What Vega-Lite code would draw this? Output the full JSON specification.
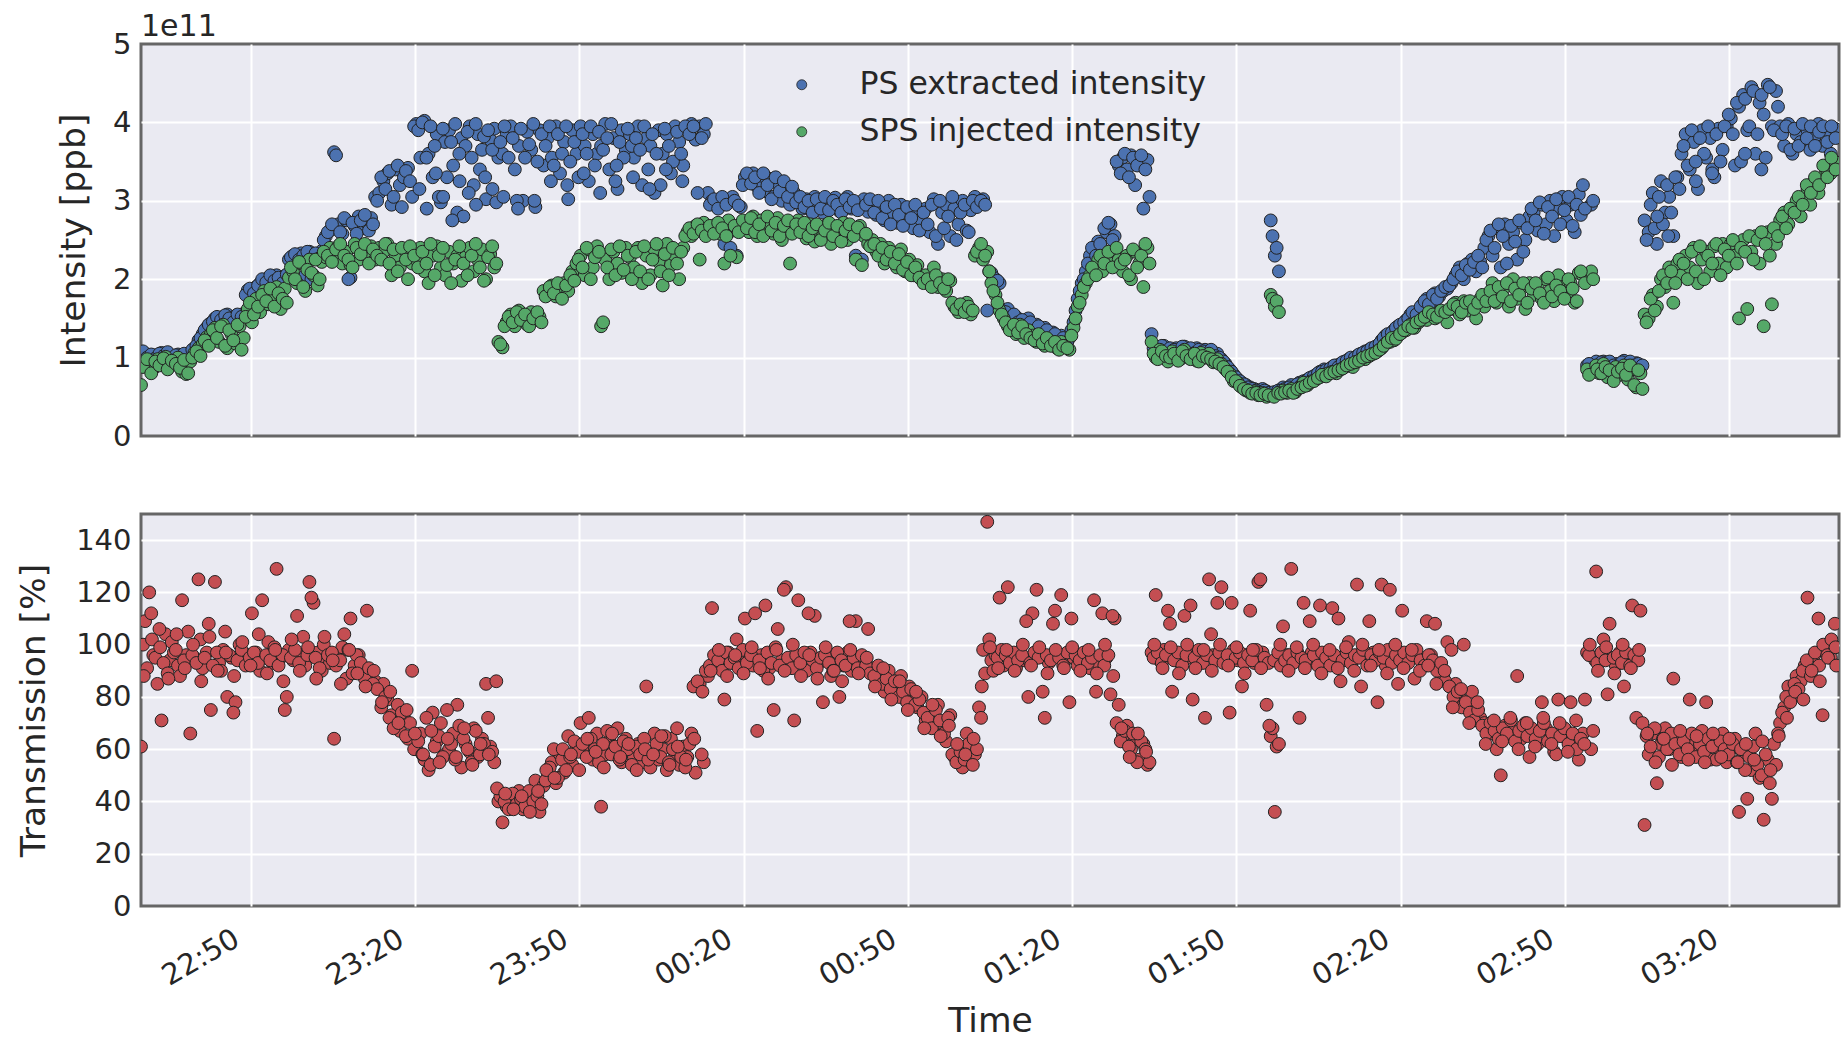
{
  "$schema": "https://vega.github.io/schema/vega-lite/v6.json",
  "background": "white",
  "padding": {"left": 15, "top": 10, "right": 1, "bottom": 5},
  "config": {
    "font": "DejaVu Sans",
    "view": {"fill": "#EAEAF2", "stroke": "#666666", "strokeWidth": 3},
    "axis": {
      "grid": true, "gridColor": "white", "gridWidth": 2, "domain": false, "ticks": false,
      "labelFontSize": 29, "titleFontSize": 34.5, "labelColor": "#262626", "titleColor": "#262626",
      "titleFontWeight": "normal", "labelPadding": 10, "titlePadding": 14
    }
  },
  "data": {
    "format": {"parse": {"t": "date:'%d %H:%M:%S'"}},
    "values": [
      {"t":"1 22:30:00","ps":1.02,"sps":0.65,"tr":61},
      {"t":"1 22:30:45","ps":1.05,"sps":0.92,"tr":109},
      {"t":"1 22:31:30","ps":0.98,"sps":0.96,"tr":120},
      {"t":"1 22:32:15","ps":1.03,"sps":0.86,"tr":96},
      {"t":"1 22:33:00","ps":1.00,"sps":0.98,"tr":85},
      {"t":"1 22:33:45","ps":1.06,"sps":0.93,"tr":71},
      {"t":"1 22:34:30","ps":0.97,"sps":1.01,"tr":104},
      {"t":"1 22:35:15","ps":1.02,"sps":0.89,"tr":94},
      {"t":"1 22:36:00","ps":1.00,"sps":0.95,"tr":97},
      {"t":"1 22:36:45","ps":1.04,"sps":1.00,"tr":92},
      {"t":"1 22:37:30","ps":0.99,"sps":0.82,"tr":117},
      {"t":"1 22:38:15","ps":1.01,"sps":0.79,"tr":96},
      {"t":"1 22:39:00","ps":1.05,"sps":0.95,"tr":66},
      {"t":"1 22:39:45","ps":1.12,"sps":1.06,"tr":95},
      {"t":"1 22:40:30","ps":1.22,"sps":1.12,"tr":125},
      {"t":"1 22:41:15","ps":1.30,"sps":1.17,"tr":91},
      {"t":"1 22:42:00","ps":1.38,"sps":1.26,"tr":97},
      {"t":"1 22:42:45","ps":1.44,"sps":1.30,"tr":75},
      {"t":"1 22:43:30","ps":1.50,"sps":1.38,"tr":124},
      {"t":"1 22:44:15","ps":1.47,"sps":1.20,"tr":93},
      {"t":"1 22:45:00","ps":1.52,"sps":1.42,"tr":98},
      {"t":"1 22:45:45","ps":1.55,"sps":1.12,"tr":80},
      {"t":"1 22:46:30","ps":1.48,"sps":1.30,"tr":95},
      {"t":"1 22:47:15","ps":1.53,"sps":1.18,"tr":78},
      {"t":"1 22:48:00","ps":1.50,"sps":1.40,"tr":100},
      {"t":"1 22:48:45","ps":1.56,"sps":1.25,"tr":94},
      {"t":"1 22:49:30","ps":1.86,"sps":1.62,"tr":96},
      {"t":"1 22:50:15","ps":1.84,"sps":1.45,"tr":112},
      {"t":"1 22:51:00","ps":1.90,"sps":1.75,"tr":97},
      {"t":"1 22:51:45","ps":1.95,"sps":1.58,"tr":90},
      {"t":"1 22:52:30","ps":1.98,"sps":1.85,"tr":95},
      {"t":"1 22:53:15","ps":2.02,"sps":1.68,"tr":101},
      {"t":"1 22:54:00","ps":1.95,"sps":1.78,"tr":93},
      {"t":"1 22:54:45","ps":2.05,"sps":1.90,"tr":129},
      {"t":"1 22:55:30","ps":2.00,"sps":1.62,"tr":95},
      {"t":"1 22:56:15","ps":2.04,"sps":1.88,"tr":75},
      {"t":"1 22:57:00","ps":2.25,"sps":2.02,"tr":98},
      {"t":"1 22:57:45","ps":2.30,"sps":2.10,"tr":94},
      {"t":"1 22:58:30","ps":2.27,"sps":1.95,"tr":111},
      {"t":"1 22:59:15","ps":2.33,"sps":2.20,"tr":96},
      {"t":"1 23:00:00","ps":2.05,"sps":1.85,"tr":92},
      {"t":"1 23:00:45","ps":2.35,"sps":2.25,"tr":124},
      {"t":"1 23:01:30","ps":2.30,"sps":2.05,"tr":116},
      {"t":"1 23:02:15","ps":2.28,"sps":1.92,"tr":97},
      {"t":"1 23:03:00","ps":2.36,"sps":2.22,"tr":90},
      {"t":"1 23:03:45","ps":2.55,"sps":2.28,"tr":94},
      {"t":"1 23:04:30","ps":2.62,"sps":2.40,"tr":93},
      {"t":"1 23:05:15","ps":3.62,"sps":2.30,"tr":64},
      {"t":"1 23:06:00","ps":2.70,"sps":2.42,"tr":95},
      {"t":"1 23:06:45","ps":2.58,"sps":2.20,"tr":99},
      {"t":"1 23:07:30","ps":2.75,"sps":2.35,"tr":87},
      {"t":"1 23:08:15","ps":2.02,"sps":2.18,"tr":110},
      {"t":"1 23:09:00","ps":2.68,"sps":2.45,"tr":92},
      {"t":"1 23:09:45","ps":2.80,"sps":2.25,"tr":96},
      {"t":"1 23:10:30","ps":2.65,"sps":2.38,"tr":90},
      {"t":"1 23:11:15","ps":2.72,"sps":2.30,"tr":113},
      {"t":"1 23:12:00","ps":2.78,"sps":2.42,"tr":88},
      {"t":"1 23:12:45","ps":3.05,"sps":2.25,"tr":86},
      {"t":"1 23:13:30","ps":3.10,"sps":2.40,"tr":84},
      {"t":"1 23:14:15","ps":3.25,"sps":2.35,"tr":85},
      {"t":"1 23:15:00","ps":3.35,"sps":2.45,"tr":79},
      {"t":"1 23:15:45","ps":2.95,"sps":2.05,"tr":73},
      {"t":"1 23:16:30","ps":3.40,"sps":2.30,"tr":70},
      {"t":"1 23:17:15","ps":3.20,"sps":2.15,"tr":67},
      {"t":"1 23:18:00","ps":3.30,"sps":2.38,"tr":72},
      {"t":"1 23:18:45","ps":3.42,"sps":2.00,"tr":64},
      {"t":"1 23:19:30","ps":3.05,"sps":2.20,"tr":90},
      {"t":"1 23:20:15","ps":3.98,"sps":2.25,"tr":60},
      {"t":"1 23:21:00","ps":3.55,"sps":2.40,"tr":66},
      {"t":"1 23:21:45","ps":4.02,"sps":2.10,"tr":56},
      {"t":"1 23:22:30","ps":3.60,"sps":1.95,"tr":52},
      {"t":"1 23:23:15","ps":3.30,"sps":2.30,"tr":74},
      {"t":"1 23:24:00","ps":3.85,"sps":2.42,"tr":63},
      {"t":"1 23:24:45","ps":2.98,"sps":2.15,"tr":70},
      {"t":"1 23:25:30","ps":3.75,"sps":2.05,"tr":58},
      {"t":"1 23:26:15","ps":3.90,"sps":2.35,"tr":60},
      {"t":"1 23:27:00","ps":3.45,"sps":2.20,"tr":66},
      {"t":"1 23:27:45","ps":2.85,"sps":2.30,"tr":77},
      {"t":"1 23:28:30","ps":3.80,"sps":1.98,"tr":53},
      {"t":"1 23:29:15","ps":3.70,"sps":2.28,"tr":62},
      {"t":"1 23:30:00","ps":3.95,"sps":2.40,"tr":59},
      {"t":"1 23:30:45","ps":3.20,"sps":2.10,"tr":68},
      {"t":"1 23:31:30","ps":3.85,"sps":2.25,"tr":57},
      {"t":"1 23:32:15","ps":3.65,"sps":2.38,"tr":64},
      {"t":"1 23:33:00","ps":3.02,"sps":2.00,"tr":85},
      {"t":"1 23:33:45","ps":3.78,"sps":2.32,"tr":61},
      {"t":"1 23:34:30","ps":3.92,"sps":2.15,"tr":55},
      {"t":"1 23:35:15","ps":3.55,"sps":1.20,"tr":40},
      {"t":"1 23:36:00","ps":3.60,"sps":1.13,"tr":32},
      {"t":"1 23:36:45","ps":3.85,"sps":1.45,"tr":38},
      {"t":"1 23:37:30","ps":3.95,"sps":1.55,"tr":42},
      {"t":"1 23:38:15","ps":3.40,"sps":1.40,"tr":40},
      {"t":"1 23:39:00","ps":3.70,"sps":1.60,"tr":44},
      {"t":"1 23:39:45","ps":3.00,"sps":1.50,"tr":37},
      {"t":"1 23:40:30","ps":3.88,"sps":1.42,"tr":39},
      {"t":"1 23:41:15","ps":3.65,"sps":1.58,"tr":41},
      {"t":"1 23:42:00","ps":2.92,"sps":1.48,"tr":48},
      {"t":"1 23:42:45","ps":3.90,"sps":1.52,"tr":36},
      {"t":"1 23:43:30","ps":3.45,"sps":1.85,"tr":46},
      {"t":"1 23:44:15","ps":3.80,"sps":1.80,"tr":50},
      {"t":"1 23:45:00","ps":3.55,"sps":1.92,"tr":55},
      {"t":"1 23:45:45","ps":3.95,"sps":1.78,"tr":47},
      {"t":"1 23:46:30","ps":3.35,"sps":1.88,"tr":58},
      {"t":"1 23:47:15","ps":3.75,"sps":1.95,"tr":51},
      {"t":"1 23:48:00","ps":3.02,"sps":1.85,"tr":65},
      {"t":"1 23:48:45","ps":3.90,"sps":2.10,"tr":54},
      {"t":"1 23:49:30","ps":3.60,"sps":2.20,"tr":61},
      {"t":"1 23:50:15","ps":3.95,"sps":2.30,"tr":70},
      {"t":"1 23:51:00","ps":3.70,"sps":2.05,"tr":60},
      {"t":"1 23:51:45","ps":3.25,"sps":2.38,"tr":72},
      {"t":"1 23:52:30","ps":3.85,"sps":2.15,"tr":56},
      {"t":"1 23:53:15","ps":3.60,"sps":2.42,"tr":66},
      {"t":"1 23:54:00","ps":3.70,"sps":1.40,"tr":38},
      {"t":"1 23:54:45","ps":3.98,"sps":2.25,"tr":58},
      {"t":"1 23:55:30","ps":3.40,"sps":2.00,"tr":63},
      {"t":"1 23:56:15","ps":3.80,"sps":2.35,"tr":61},
      {"t":"1 23:57:00","ps":3.15,"sps":2.20,"tr":68},
      {"t":"1 23:57:45","ps":3.90,"sps":2.08,"tr":55},
      {"t":"1 23:58:30","ps":3.65,"sps":2.40,"tr":64},
      {"t":"1 23:59:15","ps":3.85,"sps":2.28,"tr":59},
      {"t":"2 00:00:00","ps":3.55,"sps":2.15,"tr":57},
      {"t":"2 00:00:45","ps":3.95,"sps":2.40,"tr":62},
      {"t":"2 00:01:30","ps":3.20,"sps":1.95,"tr":55},
      {"t":"2 00:02:15","ps":3.80,"sps":2.30,"tr":84},
      {"t":"2 00:03:00","ps":3.70,"sps":2.05,"tr":53},
      {"t":"2 00:03:45","ps":3.10,"sps":2.38,"tr":66},
      {"t":"2 00:04:30","ps":3.90,"sps":2.22,"tr":56},
      {"t":"2 00:05:15","ps":3.60,"sps":1.92,"tr":60},
      {"t":"2 00:06:00","ps":3.85,"sps":2.45,"tr":52},
      {"t":"2 00:06:45","ps":3.35,"sps":2.18,"tr":64},
      {"t":"2 00:07:30","ps":3.95,"sps":2.30,"tr":58},
      {"t":"2 00:08:15","ps":3.75,"sps":2.00,"tr":54},
      {"t":"2 00:09:00","ps":3.45,"sps":2.40,"tr":61},
      {"t":"2 00:09:45","ps":3.90,"sps":2.60,"tr":57},
      {"t":"2 00:10:30","ps":3.98,"sps":2.55,"tr":66},
      {"t":"2 00:11:15","ps":3.78,"sps":2.68,"tr":51},
      {"t":"2 00:12:00","ps":3.95,"sps":2.25,"tr":85},
      {"t":"2 00:12:45","ps":3.85,"sps":2.72,"tr":55},
      {"t":"2 00:13:30","ps":3.10,"sps":2.60,"tr":88},
      {"t":"2 00:14:15","ps":3.00,"sps":2.65,"tr":114},
      {"t":"2 00:15:00","ps":2.95,"sps":2.70,"tr":95},
      {"t":"2 00:15:45","ps":3.02,"sps":2.58,"tr":91},
      {"t":"2 00:16:30","ps":2.45,"sps":2.20,"tr":79},
      {"t":"2 00:17:15","ps":2.98,"sps":2.75,"tr":97},
      {"t":"2 00:18:00","ps":3.05,"sps":2.62,"tr":93},
      {"t":"2 00:18:45","ps":2.30,"sps":2.28,"tr":102},
      {"t":"2 00:19:30","ps":2.92,"sps":2.70,"tr":96},
      {"t":"2 00:20:15","ps":3.30,"sps":2.72,"tr":110},
      {"t":"2 00:21:00","ps":3.25,"sps":2.60,"tr":94},
      {"t":"2 00:21:45","ps":3.35,"sps":2.80,"tr":92},
      {"t":"2 00:22:30","ps":3.18,"sps":2.55,"tr":67},
      {"t":"2 00:23:15","ps":3.32,"sps":2.75,"tr":96},
      {"t":"2 00:24:00","ps":3.12,"sps":2.62,"tr":115},
      {"t":"2 00:24:45","ps":3.28,"sps":2.70,"tr":91},
      {"t":"2 00:25:30","ps":3.05,"sps":2.58,"tr":75},
      {"t":"2 00:26:15","ps":3.22,"sps":2.78,"tr":106},
      {"t":"2 00:27:00","ps":3.00,"sps":2.50,"tr":94},
      {"t":"2 00:27:45","ps":3.15,"sps":2.68,"tr":122},
      {"t":"2 00:28:30","ps":2.95,"sps":2.20,"tr":93},
      {"t":"2 00:29:15","ps":3.10,"sps":2.62,"tr":71},
      {"t":"2 00:30:00","ps":3.02,"sps":2.75,"tr":117},
      {"t":"2 00:30:45","ps":2.90,"sps":2.65,"tr":95},
      {"t":"2 00:31:30","ps":3.02,"sps":2.52,"tr":90},
      {"t":"2 00:32:15","ps":2.88,"sps":2.70,"tr":97},
      {"t":"2 00:33:00","ps":3.05,"sps":2.48,"tr":111},
      {"t":"2 00:33:45","ps":2.95,"sps":2.62,"tr":93},
      {"t":"2 00:34:30","ps":2.85,"sps":2.55,"tr":78},
      {"t":"2 00:35:15","ps":3.00,"sps":2.70,"tr":96},
      {"t":"2 00:36:00","ps":2.92,"sps":2.45,"tr":88},
      {"t":"2 00:36:45","ps":3.04,"sps":2.66,"tr":94},
      {"t":"2 00:37:30","ps":2.87,"sps":2.58,"tr":80},
      {"t":"2 00:38:15","ps":2.98,"sps":2.72,"tr":92},
      {"t":"2 00:39:00","ps":3.05,"sps":2.50,"tr":97},
      {"t":"2 00:39:45","ps":2.90,"sps":2.62,"tr":90},
      {"t":"2 00:40:30","ps":2.30,"sps":2.25,"tr":109},
      {"t":"2 00:41:15","ps":2.98,"sps":2.68,"tr":95},
      {"t":"2 00:42:00","ps":3.02,"sps":2.55,"tr":93},
      {"t":"2 00:42:45","ps":2.86,"sps":2.45,"tr":106},
      {"t":"2 00:43:30","ps":2.98,"sps":2.50,"tr":91},
      {"t":"2 00:44:15","ps":2.82,"sps":2.35,"tr":86},
      {"t":"2 00:45:00","ps":2.95,"sps":2.45,"tr":89},
      {"t":"2 00:45:45","ps":2.75,"sps":2.20,"tr":82},
      {"t":"2 00:46:30","ps":3.00,"sps":2.40,"tr":90},
      {"t":"2 00:47:15","ps":2.85,"sps":2.28,"tr":84},
      {"t":"2 00:48:00","ps":2.72,"sps":2.15,"tr":81},
      {"t":"2 00:48:45","ps":2.95,"sps":2.38,"tr":88},
      {"t":"2 00:49:30","ps":2.80,"sps":2.10,"tr":79},
      {"t":"2 00:50:15","ps":2.90,"sps":2.25,"tr":84},
      {"t":"2 00:51:00","ps":2.65,"sps":2.05,"tr":78},
      {"t":"2 00:51:45","ps":2.88,"sps":2.18,"tr":76},
      {"t":"2 00:52:30","ps":2.75,"sps":2.00,"tr":80},
      {"t":"2 00:53:15","ps":2.90,"sps":2.05,"tr":71},
      {"t":"2 00:54:00","ps":2.60,"sps":1.95,"tr":74},
      {"t":"2 00:54:45","ps":3.02,"sps":2.15,"tr":69},
      {"t":"2 00:55:30","ps":2.45,"sps":1.90,"tr":77},
      {"t":"2 00:56:15","ps":2.85,"sps":2.00,"tr":70},
      {"t":"2 00:57:00","ps":2.95,"sps":1.85,"tr":63},
      {"t":"2 00:57:45","ps":2.55,"sps":1.98,"tr":73},
      {"t":"2 00:58:30","ps":2.90,"sps":1.65,"tr":57},
      {"t":"2 00:59:15","ps":2.70,"sps":1.58,"tr":60},
      {"t":"2 01:00:00","ps":3.00,"sps":1.62,"tr":53},
      {"t":"2 01:00:45","ps":2.62,"sps":1.70,"tr":66},
      {"t":"2 01:01:30","ps":2.88,"sps":1.55,"tr":55},
      {"t":"2 01:02:15","ps":3.05,"sps":2.30,"tr":58},
      {"t":"2 01:03:00","ps":2.95,"sps":2.40,"tr":76},
      {"t":"2 01:03:45","ps":3.02,"sps":2.25,"tr":98},
      {"t":"2 01:04:30","ps":1.60,"sps":2.35,"tr":147},
      {"t":"2 01:05:15","ps":2.08,"sps":1.95,"tr":94},
      {"t":"2 01:06:00","ps":2.00,"sps":1.80,"tr":96},
      {"t":"2 01:06:45","ps":1.95,"sps":1.60,"tr":118},
      {"t":"2 01:07:30","ps":1.55,"sps":1.50,"tr":92},
      {"t":"2 01:08:15","ps":1.62,"sps":1.40,"tr":122},
      {"t":"2 01:09:00","ps":1.48,"sps":1.38,"tr":95},
      {"t":"2 01:09:45","ps":1.52,"sps":1.30,"tr":91},
      {"t":"2 01:10:30","ps":1.45,"sps":1.42,"tr":97},
      {"t":"2 01:11:15","ps":1.40,"sps":1.25,"tr":94},
      {"t":"2 01:12:00","ps":1.50,"sps":1.35,"tr":80},
      {"t":"2 01:12:45","ps":1.35,"sps":1.28,"tr":112},
      {"t":"2 01:13:30","ps":1.42,"sps":1.20,"tr":121},
      {"t":"2 01:14:15","ps":1.30,"sps":1.25,"tr":96},
      {"t":"2 01:15:00","ps":1.38,"sps":1.15,"tr":72},
      {"t":"2 01:15:45","ps":1.25,"sps":1.22,"tr":93},
      {"t":"2 01:16:30","ps":1.32,"sps":1.18,"tr":108},
      {"t":"2 01:17:15","ps":1.20,"sps":1.12,"tr":97},
      {"t":"2 01:18:00","ps":1.28,"sps":1.20,"tr":119},
      {"t":"2 01:18:45","ps":1.18,"sps":1.15,"tr":94},
      {"t":"2 01:19:30","ps":1.25,"sps":1.10,"tr":78},
      {"t":"2 01:20:15","ps":1.45,"sps":1.38,"tr":95},
      {"t":"2 01:21:00","ps":1.75,"sps":1.65,"tr":92},
      {"t":"2 01:21:45","ps":1.95,"sps":1.80,"tr":96},
      {"t":"2 01:22:30","ps":2.10,"sps":1.95,"tr":94},
      {"t":"2 01:23:15","ps":2.30,"sps":2.05,"tr":91},
      {"t":"2 01:24:00","ps":2.20,"sps":2.15,"tr":117},
      {"t":"2 01:24:45","ps":2.48,"sps":2.25,"tr":93},
      {"t":"2 01:25:30","ps":2.35,"sps":2.10,"tr":112},
      {"t":"2 01:26:15","ps":2.60,"sps":2.30,"tr":95},
      {"t":"2 01:27:00","ps":2.70,"sps":2.20,"tr":81},
      {"t":"2 01:27:45","ps":2.55,"sps":2.35,"tr":110},
      {"t":"2 01:28:30","ps":3.45,"sps":2.25,"tr":77},
      {"t":"2 01:29:15","ps":3.55,"sps":2.10,"tr":65},
      {"t":"2 01:30:00","ps":3.40,"sps":2.30,"tr":69},
      {"t":"2 01:30:45","ps":3.58,"sps":2.00,"tr":60},
      {"t":"2 01:31:30","ps":3.20,"sps":2.35,"tr":64},
      {"t":"2 01:32:15","ps":3.50,"sps":2.20,"tr":56},
      {"t":"2 01:33:00","ps":2.90,"sps":1.90,"tr":62},
      {"t":"2 01:33:45","ps":3.52,"sps":2.40,"tr":54},
      {"t":"2 01:34:30","ps":1.30,"sps":1.20,"tr":97},
      {"t":"2 01:35:15","ps":1.12,"sps":1.00,"tr":119},
      {"t":"2 01:36:00","ps":1.08,"sps":1.10,"tr":94},
      {"t":"2 01:36:45","ps":1.15,"sps":1.05,"tr":98},
      {"t":"2 01:37:30","ps":1.10,"sps":0.95,"tr":113},
      {"t":"2 01:38:15","ps":1.05,"sps":1.08,"tr":82},
      {"t":"2 01:39:00","ps":1.12,"sps":1.02,"tr":96},
      {"t":"2 01:39:45","ps":1.08,"sps":0.98,"tr":93},
      {"t":"2 01:40:30","ps":1.14,"sps":1.10,"tr":111},
      {"t":"2 01:41:15","ps":1.06,"sps":1.00,"tr":95},
      {"t":"2 01:42:00","ps":1.10,"sps":1.04,"tr":79},
      {"t":"2 01:42:45","ps":1.12,"sps":0.96,"tr":97},
      {"t":"2 01:43:30","ps":1.05,"sps":1.06,"tr":94},
      {"t":"2 01:44:15","ps":1.10,"sps":1.00,"tr":72},
      {"t":"2 01:45:00","ps":1.08,"sps":1.05,"tr":125},
      {"t":"2 01:45:45","ps":1.02,"sps":0.94,"tr":96},
      {"t":"2 01:46:30","ps":1.05,"sps":0.98,"tr":116},
      {"t":"2 01:47:15","ps":0.98,"sps":0.92,"tr":122},
      {"t":"2 01:48:00","ps":0.92,"sps":0.85,"tr":95},
      {"t":"2 01:48:45","ps":0.85,"sps":0.80,"tr":74},
      {"t":"2 01:49:30","ps":0.78,"sps":0.70,"tr":98},
      {"t":"2 01:50:15","ps":0.72,"sps":0.68,"tr":94},
      {"t":"2 01:51:00","ps":0.68,"sps":0.62,"tr":84},
      {"t":"2 01:51:45","ps":0.65,"sps":0.58,"tr":96},
      {"t":"2 01:52:30","ps":0.62,"sps":0.55,"tr":113},
      {"t":"2 01:53:15","ps":0.60,"sps":0.57,"tr":93},
      {"t":"2 01:54:00","ps":0.58,"sps":0.52,"tr":124},
      {"t":"2 01:54:45","ps":0.60,"sps":0.55,"tr":97},
      {"t":"2 01:55:30","ps":0.57,"sps":0.50,"tr":77},
      {"t":"2 01:56:15","ps":2.75,"sps":1.80,"tr":65},
      {"t":"2 01:56:35","ps":2.55,"sps":1.75,"tr":68},
      {"t":"2 01:57:00","ps":2.30,"sps":1.65,"tr":36},
      {"t":"2 01:57:20","ps":2.40,"sps":1.72,"tr":61},
      {"t":"2 01:57:45","ps":2.10,"sps":1.58,"tr":62},
      {"t":"2 01:58:30","ps":0.62,"sps":0.58,"tr":107},
      {"t":"2 01:59:15","ps":0.58,"sps":0.55,"tr":96},
      {"t":"2 02:00:00","ps":0.65,"sps":0.60,"tr":129},
      {"t":"2 02:00:45","ps":0.62,"sps":0.56,"tr":94},
      {"t":"2 02:01:30","ps":0.68,"sps":0.62,"tr":72},
      {"t":"2 02:02:15","ps":0.70,"sps":0.68,"tr":116},
      {"t":"2 02:03:00","ps":0.72,"sps":0.65,"tr":95},
      {"t":"2 02:03:45","ps":0.75,"sps":0.70,"tr":97},
      {"t":"2 02:04:30","ps":0.78,"sps":0.72,"tr":93},
      {"t":"2 02:05:15","ps":0.82,"sps":0.75,"tr":115},
      {"t":"2 02:06:00","ps":0.85,"sps":0.78,"tr":94},
      {"t":"2 02:06:45","ps":0.82,"sps":0.80,"tr":97},
      {"t":"2 02:07:30","ps":0.88,"sps":0.82,"tr":114},
      {"t":"2 02:08:15","ps":0.90,"sps":0.80,"tr":93},
      {"t":"2 02:09:00","ps":0.92,"sps":0.85,"tr":86},
      {"t":"2 02:09:45","ps":0.95,"sps":0.88,"tr":96},
      {"t":"2 02:10:30","ps":0.98,"sps":0.90,"tr":101},
      {"t":"2 02:11:15","ps":0.96,"sps":0.88,"tr":94},
      {"t":"2 02:12:00","ps":1.02,"sps":0.95,"tr":123},
      {"t":"2 02:12:45","ps":1.05,"sps":0.98,"tr":84},
      {"t":"2 02:13:30","ps":1.08,"sps":0.98,"tr":95},
      {"t":"2 02:14:15","ps":1.10,"sps":1.02,"tr":109},
      {"t":"2 02:15:00","ps":1.12,"sps":1.05,"tr":97},
      {"t":"2 02:15:45","ps":1.15,"sps":1.08,"tr":78},
      {"t":"2 02:16:30","ps":1.22,"sps":1.12,"tr":123},
      {"t":"2 02:17:15","ps":1.28,"sps":1.18,"tr":92},
      {"t":"2 02:18:00","ps":1.25,"sps":1.20,"tr":121},
      {"t":"2 02:18:45","ps":1.35,"sps":1.22,"tr":96},
      {"t":"2 02:19:30","ps":1.40,"sps":1.28,"tr":85},
      {"t":"2 02:20:15","ps":1.38,"sps":1.32,"tr":113},
      {"t":"2 02:21:00","ps":1.48,"sps":1.35,"tr":94},
      {"t":"2 02:21:45","ps":1.55,"sps":1.42,"tr":97},
      {"t":"2 02:22:30","ps":1.52,"sps":1.38,"tr":87},
      {"t":"2 02:23:15","ps":1.60,"sps":1.45,"tr":95},
      {"t":"2 02:24:00","ps":1.68,"sps":1.50,"tr":93},
      {"t":"2 02:24:45","ps":1.75,"sps":1.48,"tr":109},
      {"t":"2 02:25:30","ps":1.70,"sps":1.55,"tr":96},
      {"t":"2 02:26:15","ps":1.82,"sps":1.50,"tr":108},
      {"t":"2 02:27:00","ps":1.78,"sps":1.58,"tr":92},
      {"t":"2 02:27:45","ps":1.85,"sps":1.55,"tr":88},
      {"t":"2 02:28:30","ps":1.88,"sps":1.45,"tr":101},
      {"t":"2 02:29:15","ps":1.95,"sps":1.62,"tr":98},
      {"t":"2 02:30:00","ps":2.05,"sps":1.70,"tr":85},
      {"t":"2 02:30:45","ps":2.15,"sps":1.55,"tr":80},
      {"t":"2 02:31:30","ps":2.00,"sps":1.72,"tr":100},
      {"t":"2 02:32:15","ps":2.20,"sps":1.60,"tr":77},
      {"t":"2 02:33:00","ps":2.25,"sps":1.68,"tr":82},
      {"t":"2 02:33:45","ps":2.10,"sps":1.50,"tr":74},
      {"t":"2 02:34:30","ps":2.22,"sps":1.75,"tr":72},
      {"t":"2 02:35:15","ps":2.40,"sps":1.65,"tr":70},
      {"t":"2 02:36:00","ps":2.55,"sps":1.80,"tr":68},
      {"t":"2 02:36:45","ps":2.30,"sps":1.95,"tr":66},
      {"t":"2 02:37:30","ps":2.65,"sps":1.70,"tr":60},
      {"t":"2 02:38:15","ps":2.15,"sps":1.85,"tr":50},
      {"t":"2 02:39:00","ps":2.70,"sps":1.90,"tr":69},
      {"t":"2 02:39:45","ps":2.45,"sps":1.65,"tr":65},
      {"t":"2 02:40:30","ps":2.60,"sps":2.00,"tr":67},
      {"t":"2 02:41:15","ps":2.25,"sps":1.75,"tr":88},
      {"t":"2 02:42:00","ps":2.72,"sps":1.88,"tr":64},
      {"t":"2 02:42:45","ps":2.50,"sps":1.62,"tr":70},
      {"t":"2 02:43:30","ps":2.80,"sps":1.95,"tr":57},
      {"t":"2 02:44:15","ps":2.85,"sps":1.80,"tr":66},
      {"t":"2 02:45:00","ps":2.62,"sps":1.92,"tr":62},
      {"t":"2 02:45:45","ps":2.95,"sps":1.75,"tr":78},
      {"t":"2 02:46:30","ps":2.70,"sps":2.00,"tr":68},
      {"t":"2 02:47:15","ps":3.00,"sps":1.85,"tr":64},
      {"t":"2 02:48:00","ps":2.55,"sps":1.72,"tr":59},
      {"t":"2 02:48:45","ps":2.90,"sps":2.05,"tr":79},
      {"t":"2 02:49:30","ps":3.05,"sps":1.90,"tr":65},
      {"t":"2 02:50:15","ps":2.75,"sps":1.78,"tr":67},
      {"t":"2 02:51:00","ps":2.95,"sps":1.95,"tr":78},
      {"t":"2 02:51:45","ps":2.60,"sps":1.70,"tr":63},
      {"t":"2 02:52:30","ps":3.08,"sps":2.08,"tr":56},
      {"t":"2 02:53:15","ps":3.20,"sps":2.05,"tr":66},
      {"t":"2 02:54:00","ps":0.90,"sps":0.85,"tr":97},
      {"t":"2 02:54:45","ps":2.95,"sps":2.10,"tr":60},
      {"t":"2 02:55:30","ps":0.92,"sps":0.82,"tr":94},
      {"t":"2 02:55:40","ps":0.95,"sps":0.90,"tr":128},
      {"t":"2 02:56:15","ps":0.88,"sps":0.80,"tr":96},
      {"t":"2 02:57:00","ps":0.95,"sps":0.92,"tr":102},
      {"t":"2 02:57:45","ps":0.90,"sps":0.75,"tr":81},
      {"t":"2 02:58:30","ps":0.85,"sps":0.82,"tr":95},
      {"t":"2 02:59:15","ps":0.92,"sps":0.88,"tr":92},
      {"t":"2 03:00:00","ps":0.88,"sps":0.78,"tr":97},
      {"t":"2 03:00:45","ps":0.96,"sps":0.90,"tr":84},
      {"t":"2 03:01:30","ps":0.90,"sps":0.72,"tr":95},
      {"t":"2 03:02:15","ps":0.87,"sps":0.85,"tr":115},
      {"t":"2 03:03:00","ps":0.93,"sps":0.62,"tr":72},
      {"t":"2 03:03:45","ps":0.88,"sps":0.80,"tr":113},
      {"t":"2 03:04:30","ps":2.75,"sps":1.55,"tr":31},
      {"t":"2 03:05:15","ps":2.60,"sps":1.50,"tr":58},
      {"t":"2 03:06:00","ps":3.10,"sps":1.80,"tr":66},
      {"t":"2 03:06:45","ps":2.45,"sps":1.65,"tr":47},
      {"t":"2 03:07:30","ps":3.25,"sps":2.00,"tr":62},
      {"t":"2 03:08:15","ps":2.85,"sps":1.90,"tr":68},
      {"t":"2 03:09:00","ps":3.05,"sps":2.15,"tr":60},
      {"t":"2 03:09:45","ps":2.55,"sps":1.70,"tr":87},
      {"t":"2 03:10:30","ps":3.30,"sps":2.20,"tr":64},
      {"t":"2 03:11:15","ps":3.60,"sps":2.05,"tr":57},
      {"t":"2 03:12:00","ps":3.85,"sps":2.30,"tr":65},
      {"t":"2 03:12:45","ps":3.40,"sps":2.15,"tr":79},
      {"t":"2 03:13:30","ps":3.75,"sps":2.40,"tr":62},
      {"t":"2 03:14:15","ps":3.15,"sps":1.95,"tr":58},
      {"t":"2 03:15:00","ps":3.90,"sps":2.25,"tr":67},
      {"t":"2 03:15:45","ps":3.55,"sps":2.35,"tr":78},
      {"t":"2 03:16:30","ps":3.80,"sps":2.10,"tr":56},
      {"t":"2 03:17:15","ps":3.30,"sps":2.42,"tr":63},
      {"t":"2 03:18:00","ps":3.92,"sps":2.20,"tr":60},
      {"t":"2 03:18:45","ps":3.65,"sps":2.45,"tr":66},
      {"t":"2 03:19:30","ps":3.95,"sps":2.15,"tr":55},
      {"t":"2 03:20:15","ps":4.05,"sps":2.45,"tr":60},
      {"t":"2 03:21:00","ps":3.45,"sps":2.30,"tr":64},
      {"t":"2 03:21:45","ps":4.20,"sps":1.50,"tr":36},
      {"t":"2 03:22:30","ps":4.35,"sps":2.50,"tr":58},
      {"t":"2 03:23:15","ps":3.90,"sps":1.62,"tr":41},
      {"t":"2 03:24:00","ps":4.45,"sps":2.35,"tr":52},
      {"t":"2 03:24:45","ps":3.60,"sps":2.55,"tr":66},
      {"t":"2 03:25:30","ps":4.25,"sps":2.20,"tr":49},
      {"t":"2 03:26:15","ps":4.10,"sps":1.40,"tr":33},
      {"t":"2 03:27:00","ps":4.48,"sps":2.60,"tr":56},
      {"t":"2 03:27:45","ps":3.95,"sps":1.68,"tr":41},
      {"t":"2 03:28:30","ps":4.40,"sps":2.45,"tr":54},
      {"t":"2 03:29:15","ps":3.95,"sps":2.75,"tr":70},
      {"t":"2 03:30:00","ps":3.70,"sps":2.85,"tr":76},
      {"t":"2 03:30:45","ps":3.98,"sps":2.70,"tr":84},
      {"t":"2 03:31:30","ps":3.60,"sps":2.90,"tr":80},
      {"t":"2 03:32:15","ps":3.85,"sps":3.00,"tr":88},
      {"t":"2 03:33:00","ps":3.75,"sps":2.80,"tr":86},
      {"t":"2 03:33:45","ps":3.95,"sps":3.05,"tr":92},
      {"t":"2 03:34:15","ps":3.90,"sps":3.15,"tr":118},
      {"t":"2 03:34:45","ps":3.65,"sps":2.95,"tr":90},
      {"t":"2 03:35:30","ps":3.80,"sps":3.25,"tr":96},
      {"t":"2 03:36:15","ps":3.98,"sps":3.10,"tr":110},
      {"t":"2 03:37:00","ps":3.70,"sps":3.30,"tr":73},
      {"t":"2 03:37:45","ps":3.85,"sps":3.40,"tr":98},
      {"t":"2 03:38:30","ps":3.60,"sps":3.35,"tr":95},
      {"t":"2 03:39:15","ps":3.92,"sps":3.50,"tr":108},
      {"t":"1 22:30:22","ps":1.08,"sps":0.88,"tr":100},
      {"t":"1 22:31:07","ps":1.00,"sps":0.98,"tr":91},
      {"t":"1 22:31:52","ps":1.04,"sps":0.80,"tr":112},
      {"t":"1 22:32:37","ps":0.99,"sps":0.95,"tr":95},
      {"t":"1 22:33:22","ps":1.05,"sps":0.90,"tr":106},
      {"t":"1 22:34:07","ps":1.02,"sps":0.99,"tr":93},
      {"t":"1 22:34:52","ps":1.07,"sps":0.85,"tr":89},
      {"t":"1 22:35:37","ps":0.98,"sps":0.96,"tr":101},
      {"t":"1 22:36:22","ps":1.03,"sps":0.92,"tr":98},
      {"t":"1 22:37:07","ps":1.00,"sps":0.87,"tr":88},
      {"t":"1 22:37:52","ps":1.05,"sps":0.97,"tr":94},
      {"t":"1 22:38:37","ps":0.96,"sps":0.80,"tr":105},
      {"t":"1 22:39:22","ps":1.10,"sps":1.00,"tr":96},
      {"t":"1 22:40:07","ps":1.15,"sps":1.08,"tr":93},
      {"t":"1 22:40:52","ps":1.25,"sps":1.02,"tr":102},
      {"t":"1 22:41:37","ps":1.35,"sps":1.22,"tr":95},
      {"t":"1 22:42:22","ps":1.42,"sps":1.15,"tr":108},
      {"t":"1 22:43:07","ps":1.46,"sps":1.35,"tr":92},
      {"t":"1 22:43:52","ps":1.52,"sps":1.25,"tr":97},
      {"t":"1 22:44:37","ps":1.48,"sps":1.40,"tr":90},
      {"t":"1 22:45:22","ps":1.54,"sps":1.15,"tr":105},
      {"t":"1 22:46:07","ps":1.50,"sps":1.35,"tr":96},
      {"t":"1 22:46:52","ps":1.45,"sps":1.22,"tr":74},
      {"t":"1 22:47:37","ps":1.55,"sps":1.42,"tr":94},
      {"t":"1 22:48:22","ps":1.52,"sps":1.10,"tr":98},
      {"t":"1 22:49:07","ps":1.80,"sps":1.52,"tr":92},
      {"t":"1 22:49:52","ps":1.88,"sps":1.70,"tr":95},
      {"t":"1 22:50:37","ps":1.82,"sps":1.55,"tr":97},
      {"t":"1 22:51:22","ps":1.92,"sps":1.65,"tr":93},
      {"t":"1 22:52:07","ps":2.00,"sps":1.80,"tr":117},
      {"t":"1 22:52:52","ps":1.96,"sps":1.72,"tr":96},
      {"t":"1 22:53:37","ps":2.05,"sps":1.88,"tr":94},
      {"t":"1 22:54:22","ps":1.98,"sps":1.65,"tr":99},
      {"t":"1 22:55:07","ps":2.02,"sps":1.82,"tr":92},
      {"t":"1 22:55:52","ps":1.95,"sps":1.75,"tr":96},
      {"t":"1 22:56:37","ps":2.06,"sps":1.70,"tr":80},
      {"t":"1 22:57:22","ps":2.28,"sps":2.15,"tr":95},
      {"t":"1 22:58:07","ps":2.32,"sps":2.00,"tr":98},
      {"t":"1 22:58:52","ps":2.25,"sps":2.22,"tr":93},
      {"t":"1 22:59:37","ps":2.30,"sps":1.90,"tr":103},
      {"t":"1 23:00:22","ps":2.35,"sps":2.12,"tr":96},
      {"t":"1 23:01:07","ps":2.00,"sps":2.08,"tr":118},
      {"t":"1 23:01:52","ps":2.33,"sps":2.25,"tr":95},
      {"t":"1 23:02:37","ps":2.27,"sps":2.00,"tr":91},
      {"t":"1 23:03:22","ps":2.50,"sps":2.35,"tr":100},
      {"t":"1 23:04:07","ps":2.60,"sps":2.30,"tr":96},
      {"t":"1 23:04:52","ps":2.70,"sps":2.22,"tr":97},
      {"t":"1 23:05:37","ps":3.58,"sps":2.38,"tr":92},
      {"t":"1 23:06:22","ps":2.60,"sps":2.45,"tr":94},
      {"t":"1 23:07:07","ps":2.78,"sps":2.30,"tr":104},
      {"t":"1 23:07:52","ps":2.00,"sps":2.25,"tr":98},
      {"t":"1 23:08:37","ps":2.72,"sps":2.15,"tr":89},
      {"t":"1 23:09:22","ps":2.58,"sps":2.40,"tr":96},
      {"t":"1 23:10:07","ps":2.75,"sps":2.32,"tr":93},
      {"t":"1 23:10:52","ps":2.82,"sps":2.45,"tr":87},
      {"t":"1 23:11:37","ps":2.62,"sps":2.20,"tr":91},
      {"t":"1 23:12:22","ps":2.70,"sps":2.38,"tr":85},
      {"t":"1 23:13:07","ps":3.00,"sps":2.30,"tr":83},
      {"t":"1 23:13:52","ps":3.30,"sps":2.25,"tr":76},
      {"t":"1 23:14:37","ps":3.15,"sps":2.45,"tr":80},
      {"t":"1 23:15:22","ps":3.38,"sps":2.20,"tr":72},
      {"t":"1 23:16:07","ps":3.05,"sps":2.38,"tr":68},
      {"t":"1 23:16:52","ps":3.45,"sps":2.10,"tr":77},
      {"t":"1 23:17:37","ps":2.92,"sps":2.40,"tr":74},
      {"t":"1 23:18:22","ps":3.38,"sps":2.25,"tr":65},
      {"t":"1 23:19:07","ps":3.25,"sps":2.42,"tr":70},
      {"t":"1 23:19:52","ps":3.95,"sps":2.30,"tr":60},
      {"t":"1 23:20:37","ps":3.90,"sps":2.15,"tr":63},
      {"t":"1 23:21:22","ps":4.00,"sps":2.35,"tr":58},
      {"t":"1 23:22:07","ps":3.55,"sps":2.20,"tr":72},
      {"t":"1 23:22:52","ps":3.95,"sps":2.45,"tr":54},
      {"t":"1 23:23:37","ps":3.70,"sps":2.05,"tr":61},
      {"t":"1 23:24:22","ps":3.05,"sps":2.30,"tr":65},
      {"t":"1 23:25:07","ps":3.92,"sps":2.40,"tr":57},
      {"t":"1 23:25:52","ps":3.30,"sps":2.18,"tr":75},
      {"t":"1 23:26:37","ps":3.75,"sps":1.95,"tr":62},
      {"t":"1 23:27:22","ps":3.98,"sps":2.25,"tr":56},
      {"t":"1 23:28:07","ps":3.60,"sps":2.42,"tr":69},
      {"t":"1 23:28:52","ps":2.80,"sps":2.20,"tr":64},
      {"t":"1 23:29:37","ps":3.88,"sps":2.05,"tr":60},
      {"t":"1 23:30:22","ps":3.55,"sps":2.30,"tr":55},
      {"t":"1 23:31:07","ps":3.98,"sps":2.45,"tr":67},
      {"t":"1 23:31:52","ps":3.40,"sps":2.15,"tr":58},
      {"t":"1 23:32:37","ps":3.82,"sps":1.98,"tr":62},
      {"t":"1 23:33:22","ps":3.90,"sps":2.28,"tr":72},
      {"t":"1 23:34:07","ps":3.65,"sps":2.42,"tr":59},
      {"t":"1 23:34:52","ps":2.98,"sps":2.20,"tr":86},
      {"t":"1 23:35:37","ps":3.75,"sps":1.17,"tr":42},
      {"t":"1 23:36:22","ps":3.95,"sps":1.40,"tr":40},
      {"t":"1 23:37:07","ps":3.55,"sps":1.52,"tr":37},
      {"t":"1 23:37:52","ps":3.80,"sps":1.45,"tr":43},
      {"t":"1 23:38:37","ps":3.00,"sps":1.58,"tr":39},
      {"t":"1 23:39:22","ps":3.92,"sps":1.48,"tr":41},
      {"t":"1 23:40:07","ps":3.55,"sps":1.55,"tr":38},
      {"t":"1 23:40:52","ps":3.72,"sps":1.40,"tr":44},
      {"t":"1 23:41:37","ps":3.98,"sps":1.50,"tr":40},
      {"t":"1 23:42:22","ps":3.50,"sps":1.58,"tr":42},
      {"t":"1 23:43:07","ps":3.85,"sps":1.45,"tr":39},
      {"t":"1 23:43:52","ps":3.70,"sps":1.78,"tr":48},
      {"t":"1 23:44:37","ps":3.95,"sps":1.90,"tr":53},
      {"t":"1 23:45:22","ps":3.45,"sps":1.82,"tr":60},
      {"t":"1 23:46:07","ps":3.85,"sps":1.95,"tr":49},
      {"t":"1 23:46:52","ps":3.60,"sps":1.75,"tr":56},
      {"t":"1 23:47:37","ps":3.95,"sps":1.92,"tr":52},
      {"t":"1 23:48:22","ps":3.50,"sps":2.05,"tr":57},
      {"t":"1 23:49:07","ps":3.75,"sps":1.98,"tr":63},
      {"t":"1 23:49:52","ps":3.30,"sps":2.25,"tr":59},
      {"t":"1 23:50:37","ps":3.85,"sps":2.15,"tr":62},
      {"t":"1 23:51:22","ps":3.60,"sps":2.40,"tr":57},
      {"t":"1 23:52:07","ps":3.95,"sps":2.00,"tr":64},
      {"t":"1 23:52:52","ps":3.45,"sps":2.28,"tr":60},
      {"t":"1 23:53:37","ps":3.88,"sps":2.35,"tr":55},
      {"t":"1 23:54:22","ps":3.65,"sps":1.45,"tr":62},
      {"t":"1 23:55:07","ps":3.80,"sps":2.15,"tr":67},
      {"t":"1 23:55:52","ps":3.98,"sps":2.38,"tr":58},
      {"t":"1 23:56:37","ps":3.25,"sps":2.05,"tr":61},
      {"t":"1 23:57:22","ps":3.75,"sps":2.42,"tr":56},
      {"t":"1 23:58:07","ps":3.55,"sps":2.12,"tr":63},
      {"t":"1 23:58:52","ps":3.92,"sps":2.30,"tr":60},
      {"t":"1 23:59:37","ps":3.70,"sps":2.00,"tr":54},
      {"t":"2 00:00:22","ps":3.80,"sps":2.35,"tr":61},
      {"t":"2 00:01:07","ps":3.65,"sps":2.10,"tr":58},
      {"t":"2 00:01:52","ps":3.95,"sps":2.42,"tr":64},
      {"t":"2 00:02:37","ps":3.40,"sps":2.00,"tr":56},
      {"t":"2 00:03:22","ps":3.85,"sps":2.25,"tr":59},
      {"t":"2 00:04:07","ps":3.60,"sps":2.45,"tr":62},
      {"t":"2 00:04:52","ps":3.20,"sps":2.10,"tr":57},
      {"t":"2 00:05:37","ps":3.92,"sps":2.32,"tr":65},
      {"t":"2 00:06:22","ps":3.70,"sps":2.05,"tr":55},
      {"t":"2 00:07:07","ps":3.50,"sps":2.40,"tr":60},
      {"t":"2 00:07:52","ps":3.88,"sps":2.20,"tr":68},
      {"t":"2 00:08:37","ps":3.60,"sps":2.35,"tr":57},
      {"t":"2 00:09:22","ps":3.95,"sps":2.55,"tr":53},
      {"t":"2 00:10:07","ps":3.85,"sps":2.65,"tr":62},
      {"t":"2 00:10:52","ps":3.95,"sps":2.58,"tr":84},
      {"t":"2 00:11:37","ps":3.10,"sps":2.70,"tr":86},
      {"t":"2 00:12:22","ps":3.80,"sps":2.62,"tr":58},
      {"t":"2 00:13:07","ps":3.98,"sps":2.55,"tr":90},
      {"t":"2 00:13:52","ps":2.95,"sps":2.68,"tr":92},
      {"t":"2 00:14:37","ps":3.02,"sps":2.58,"tr":96},
      {"t":"2 00:15:22","ps":2.90,"sps":2.72,"tr":94},
      {"t":"2 00:16:07","ps":3.05,"sps":2.65,"tr":90},
      {"t":"2 00:16:52","ps":2.95,"sps":2.55,"tr":97},
      {"t":"2 00:17:37","ps":2.40,"sps":2.30,"tr":93},
      {"t":"2 00:18:22","ps":3.00,"sps":2.68,"tr":95},
      {"t":"2 00:19:07","ps":2.94,"sps":2.60,"tr":91},
      {"t":"2 00:19:52","ps":3.20,"sps":2.75,"tr":98},
      {"t":"2 00:20:37","ps":3.35,"sps":2.65,"tr":93},
      {"t":"2 00:21:22","ps":3.22,"sps":2.78,"tr":96},
      {"t":"2 00:22:07","ps":3.30,"sps":2.60,"tr":112},
      {"t":"2 00:22:52","ps":3.10,"sps":2.70,"tr":94},
      {"t":"2 00:23:37","ps":3.35,"sps":2.55,"tr":90},
      {"t":"2 00:24:22","ps":3.20,"sps":2.80,"tr":97},
      {"t":"2 00:25:07","ps":3.02,"sps":2.62,"tr":93},
      {"t":"2 00:25:52","ps":3.30,"sps":2.72,"tr":99},
      {"t":"2 00:26:37","ps":3.12,"sps":2.55,"tr":92},
      {"t":"2 00:27:22","ps":3.25,"sps":2.68,"tr":121},
      {"t":"2 00:28:07","ps":3.05,"sps":2.75,"tr":95},
      {"t":"2 00:28:52","ps":3.18,"sps":2.58,"tr":91},
      {"t":"2 00:29:37","ps":2.98,"sps":2.70,"tr":96},
      {"t":"2 00:30:22","ps":3.05,"sps":2.60,"tr":93},
      {"t":"2 00:31:07","ps":2.92,"sps":2.72,"tr":97},
      {"t":"2 00:31:52","ps":3.00,"sps":2.55,"tr":112},
      {"t":"2 00:32:37","ps":2.85,"sps":2.65,"tr":94},
      {"t":"2 00:33:22","ps":3.02,"sps":2.70,"tr":91},
      {"t":"2 00:34:07","ps":2.90,"sps":2.50,"tr":95},
      {"t":"2 00:34:52","ps":3.05,"sps":2.62,"tr":96},
      {"t":"2 00:35:37","ps":2.88,"sps":2.72,"tr":93},
      {"t":"2 00:36:22","ps":3.00,"sps":2.55,"tr":90},
      {"t":"2 00:37:07","ps":2.95,"sps":2.68,"tr":97},
      {"t":"2 00:37:52","ps":2.85,"sps":2.48,"tr":94},
      {"t":"2 00:38:37","ps":3.02,"sps":2.62,"tr":92},
      {"t":"2 00:39:22","ps":2.92,"sps":2.70,"tr":109},
      {"t":"2 00:40:07","ps":3.00,"sps":2.55,"tr":95},
      {"t":"2 00:40:52","ps":2.88,"sps":2.66,"tr":91},
      {"t":"2 00:41:37","ps":2.25,"sps":2.18,"tr":96},
      {"t":"2 00:42:22","ps":2.95,"sps":2.58,"tr":92},
      {"t":"2 00:43:07","ps":3.02,"sps":2.42,"tr":89},
      {"t":"2 00:43:52","ps":2.85,"sps":2.45,"tr":88},
      {"t":"2 00:44:37","ps":3.00,"sps":2.30,"tr":92},
      {"t":"2 00:45:22","ps":2.78,"sps":2.40,"tr":85},
      {"t":"2 00:46:07","ps":2.92,"sps":2.25,"tr":87},
      {"t":"2 00:46:52","ps":2.70,"sps":2.35,"tr":83},
      {"t":"2 00:47:37","ps":2.95,"sps":2.20,"tr":86},
      {"t":"2 00:48:22","ps":2.82,"sps":2.32,"tr":80},
      {"t":"2 00:49:07","ps":2.68,"sps":2.12,"tr":82},
      {"t":"2 00:49:52","ps":2.92,"sps":2.22,"tr":78},
      {"t":"2 00:50:37","ps":2.78,"sps":2.05,"tr":83},
      {"t":"2 00:51:22","ps":2.95,"sps":2.15,"tr":77},
      {"t":"2 00:52:07","ps":2.62,"sps":2.02,"tr":79},
      {"t":"2 00:52:52","ps":2.85,"sps":1.95,"tr":74},
      {"t":"2 00:53:37","ps":2.70,"sps":2.00,"tr":72},
      {"t":"2 00:54:22","ps":2.95,"sps":1.90,"tr":68},
      {"t":"2 00:55:07","ps":2.55,"sps":2.05,"tr":75},
      {"t":"2 00:55:52","ps":3.00,"sps":1.95,"tr":71},
      {"t":"2 00:56:37","ps":2.65,"sps":1.88,"tr":66},
      {"t":"2 00:57:22","ps":2.80,"sps":2.00,"tr":72},
      {"t":"2 00:58:07","ps":3.05,"sps":1.70,"tr":58},
      {"t":"2 00:58:52","ps":2.50,"sps":1.62,"tr":55},
      {"t":"2 00:59:37","ps":2.85,"sps":1.68,"tr":59},
      {"t":"2 01:00:22","ps":2.95,"sps":1.58,"tr":56},
      {"t":"2 01:01:07","ps":2.60,"sps":1.65,"tr":62},
      {"t":"2 01:01:52","ps":3.00,"sps":1.60,"tr":54},
      {"t":"2 01:02:37","ps":2.92,"sps":2.35,"tr":60},
      {"t":"2 01:03:22","ps":3.00,"sps":2.45,"tr":72},
      {"t":"2 01:04:07","ps":2.95,"sps":2.30,"tr":89},
      {"t":"2 01:04:52","ps":2.10,"sps":2.10,"tr":102},
      {"t":"2 01:05:37","ps":2.02,"sps":1.85,"tr":90},
      {"t":"2 01:06:22","ps":1.98,"sps":1.70,"tr":95},
      {"t":"2 01:07:07","ps":1.60,"sps":1.55,"tr":98},
      {"t":"2 01:07:52","ps":1.58,"sps":1.45,"tr":96},
      {"t":"2 01:08:37","ps":1.50,"sps":1.35,"tr":93},
      {"t":"2 01:09:22","ps":1.55,"sps":1.42,"tr":97},
      {"t":"2 01:10:07","ps":1.45,"sps":1.32,"tr":94},
      {"t":"2 01:10:52","ps":1.48,"sps":1.40,"tr":96},
      {"t":"2 01:11:37","ps":1.38,"sps":1.30,"tr":109},
      {"t":"2 01:12:22","ps":1.45,"sps":1.25,"tr":93},
      {"t":"2 01:13:07","ps":1.32,"sps":1.22,"tr":97},
      {"t":"2 01:13:52","ps":1.40,"sps":1.30,"tr":95},
      {"t":"2 01:14:37","ps":1.28,"sps":1.18,"tr":82},
      {"t":"2 01:15:22","ps":1.35,"sps":1.25,"tr":96},
      {"t":"2 01:16:07","ps":1.22,"sps":1.15,"tr":94},
      {"t":"2 01:16:52","ps":1.30,"sps":1.20,"tr":113},
      {"t":"2 01:17:37","ps":1.18,"sps":1.10,"tr":95},
      {"t":"2 01:18:22","ps":1.25,"sps":1.15,"tr":92},
      {"t":"2 01:19:07","ps":1.20,"sps":1.12,"tr":97},
      {"t":"2 01:19:52","ps":1.35,"sps":1.28,"tr":110},
      {"t":"2 01:20:37","ps":1.60,"sps":1.50,"tr":96},
      {"t":"2 01:21:22","ps":1.85,"sps":1.70,"tr":94},
      {"t":"2 01:22:07","ps":2.00,"sps":1.90,"tr":97},
      {"t":"2 01:22:52","ps":2.20,"sps":2.00,"tr":93},
      {"t":"2 01:23:37","ps":2.40,"sps":2.15,"tr":95},
      {"t":"2 01:24:22","ps":2.30,"sps":2.05,"tr":82},
      {"t":"2 01:25:07","ps":2.45,"sps":2.30,"tr":96},
      {"t":"2 01:25:52","ps":2.65,"sps":2.20,"tr":92},
      {"t":"2 01:26:37","ps":2.72,"sps":2.35,"tr":96},
      {"t":"2 01:27:22","ps":2.50,"sps":2.15,"tr":111},
      {"t":"2 01:28:07","ps":3.50,"sps":2.40,"tr":70},
      {"t":"2 01:28:52","ps":3.35,"sps":2.20,"tr":63},
      {"t":"2 01:29:37","ps":3.60,"sps":2.25,"tr":67},
      {"t":"2 01:30:22","ps":3.30,"sps":2.05,"tr":61},
      {"t":"2 01:31:07","ps":3.55,"sps":2.38,"tr":66},
      {"t":"2 01:31:52","ps":3.45,"sps":2.15,"tr":55},
      {"t":"2 01:32:37","ps":3.58,"sps":2.30,"tr":63},
      {"t":"2 01:33:22","ps":3.40,"sps":2.45,"tr":60},
      {"t":"2 01:34:07","ps":3.05,"sps":2.20,"tr":55},
      {"t":"2 01:34:52","ps":1.12,"sps":1.05,"tr":95},
      {"t":"2 01:35:37","ps":1.08,"sps":0.98,"tr":97},
      {"t":"2 01:36:22","ps":1.15,"sps":1.08,"tr":93},
      {"t":"2 01:37:07","ps":1.06,"sps":1.02,"tr":96},
      {"t":"2 01:37:52","ps":1.12,"sps":1.00,"tr":108},
      {"t":"2 01:38:37","ps":1.10,"sps":1.05,"tr":94},
      {"t":"2 01:39:22","ps":1.05,"sps":0.96,"tr":97},
      {"t":"2 01:40:07","ps":1.14,"sps":1.08,"tr":92},
      {"t":"2 01:40:52","ps":1.08,"sps":1.02,"tr":96},
      {"t":"2 01:41:37","ps":1.12,"sps":0.98,"tr":115},
      {"t":"2 01:42:22","ps":1.06,"sps":1.05,"tr":95},
      {"t":"2 01:43:07","ps":1.10,"sps":0.95,"tr":98},
      {"t":"2 01:43:52","ps":1.08,"sps":1.02,"tr":93},
      {"t":"2 01:44:37","ps":1.04,"sps":1.00,"tr":96},
      {"t":"2 01:45:22","ps":1.10,"sps":0.98,"tr":104},
      {"t":"2 01:46:07","ps":1.02,"sps":0.95,"tr":94},
      {"t":"2 01:46:52","ps":1.00,"sps":0.92,"tr":97},
      {"t":"2 01:47:37","ps":0.95,"sps":0.88,"tr":93},
      {"t":"2 01:48:22","ps":0.88,"sps":0.82,"tr":96},
      {"t":"2 01:49:07","ps":0.82,"sps":0.75,"tr":116},
      {"t":"2 01:49:52","ps":0.75,"sps":0.70,"tr":95},
      {"t":"2 01:50:37","ps":0.70,"sps":0.64,"tr":97},
      {"t":"2 01:51:22","ps":0.66,"sps":0.60,"tr":93},
      {"t":"2 01:52:07","ps":0.62,"sps":0.58,"tr":96},
      {"t":"2 01:52:52","ps":0.60,"sps":0.54,"tr":94},
      {"t":"2 01:53:37","ps":0.58,"sps":0.55,"tr":98},
      {"t":"2 01:54:22","ps":0.56,"sps":0.52,"tr":125},
      {"t":"2 01:55:07","ps":0.58,"sps":0.54,"tr":95},
      {"t":"2 01:55:52","ps":0.55,"sps":0.52,"tr":93},
      {"t":"2 01:56:52","ps":0.56,"sps":0.50,"tr":94},
      {"t":"2 01:57:37","ps":0.58,"sps":0.55,"tr":97},
      {"t":"2 01:58:07","ps":0.58,"sps":0.54,"tr":92},
      {"t":"2 01:58:52","ps":0.60,"sps":0.56,"tr":94},
      {"t":"2 01:59:37","ps":0.62,"sps":0.58,"tr":96},
      {"t":"2 02:00:22","ps":0.60,"sps":0.55,"tr":93},
      {"t":"2 02:01:07","ps":0.66,"sps":0.60,"tr":97},
      {"t":"2 02:01:52","ps":0.65,"sps":0.62,"tr":95},
      {"t":"2 02:02:37","ps":0.70,"sps":0.64,"tr":94},
      {"t":"2 02:03:22","ps":0.74,"sps":0.68,"tr":109},
      {"t":"2 02:04:07","ps":0.76,"sps":0.70,"tr":96},
      {"t":"2 02:04:52","ps":0.80,"sps":0.74,"tr":92},
      {"t":"2 02:05:37","ps":0.82,"sps":0.78,"tr":97},
      {"t":"2 02:06:22","ps":0.84,"sps":0.76,"tr":95},
      {"t":"2 02:07:07","ps":0.86,"sps":0.80,"tr":92},
      {"t":"2 02:07:52","ps":0.90,"sps":0.82,"tr":96},
      {"t":"2 02:08:37","ps":0.88,"sps":0.84,"tr":110},
      {"t":"2 02:09:22","ps":0.94,"sps":0.86,"tr":94},
      {"t":"2 02:10:07","ps":0.96,"sps":0.90,"tr":97},
      {"t":"2 02:10:52","ps":1.00,"sps":0.92,"tr":93},
      {"t":"2 02:11:37","ps":1.00,"sps":0.94,"tr":96},
      {"t":"2 02:12:22","ps":1.04,"sps":0.96,"tr":95},
      {"t":"2 02:13:07","ps":1.06,"sps":1.00,"tr":98},
      {"t":"2 02:13:52","ps":1.08,"sps":1.02,"tr":92},
      {"t":"2 02:14:37","ps":1.12,"sps":1.04,"tr":96},
      {"t":"2 02:15:22","ps":1.14,"sps":1.06,"tr":94},
      {"t":"2 02:16:07","ps":1.18,"sps":1.10,"tr":97},
      {"t":"2 02:16:52","ps":1.25,"sps":1.15,"tr":95},
      {"t":"2 02:17:37","ps":1.30,"sps":1.20,"tr":98},
      {"t":"2 02:18:22","ps":1.32,"sps":1.25,"tr":93},
      {"t":"2 02:19:07","ps":1.38,"sps":1.24,"tr":96},
      {"t":"2 02:19:52","ps":1.42,"sps":1.30,"tr":94},
      {"t":"2 02:20:37","ps":1.45,"sps":1.35,"tr":97},
      {"t":"2 02:21:22","ps":1.50,"sps":1.40,"tr":93},
      {"t":"2 02:22:07","ps":1.58,"sps":1.38,"tr":96},
      {"t":"2 02:22:52","ps":1.55,"sps":1.45,"tr":98},
      {"t":"2 02:23:37","ps":1.65,"sps":1.48,"tr":94},
      {"t":"2 02:24:22","ps":1.72,"sps":1.52,"tr":92},
      {"t":"2 02:25:07","ps":1.68,"sps":1.58,"tr":96},
      {"t":"2 02:25:52","ps":1.80,"sps":1.55,"tr":94},
      {"t":"2 02:26:37","ps":1.75,"sps":1.52,"tr":90},
      {"t":"2 02:27:22","ps":1.85,"sps":1.60,"tr":93},
      {"t":"2 02:28:07","ps":1.90,"sps":1.58,"tr":86},
      {"t":"2 02:28:52","ps":1.92,"sps":1.62,"tr":84},
      {"t":"2 02:29:37","ps":2.00,"sps":1.68,"tr":80},
      {"t":"2 02:30:22","ps":2.10,"sps":1.65,"tr":82},
      {"t":"2 02:31:07","ps":2.05,"sps":1.58,"tr":76},
      {"t":"2 02:31:52","ps":2.18,"sps":1.70,"tr":78},
      {"t":"2 02:32:37","ps":2.12,"sps":1.72,"tr":74},
      {"t":"2 02:33:22","ps":2.22,"sps":1.62,"tr":71},
      {"t":"2 02:34:07","ps":2.30,"sps":1.70,"tr":75},
      {"t":"2 02:34:52","ps":2.15,"sps":1.80,"tr":69},
      {"t":"2 02:35:37","ps":2.50,"sps":1.72,"tr":66},
      {"t":"2 02:36:22","ps":2.62,"sps":1.85,"tr":70},
      {"t":"2 02:37:07","ps":2.40,"sps":1.72,"tr":67},
      {"t":"2 02:37:52","ps":2.70,"sps":1.90,"tr":64},
      {"t":"2 02:38:37","ps":2.55,"sps":1.78,"tr":68},
      {"t":"2 02:39:22","ps":2.20,"sps":1.95,"tr":66},
      {"t":"2 02:40:07","ps":2.68,"sps":1.72,"tr":71},
      {"t":"2 02:40:52","ps":2.48,"sps":1.88,"tr":63},
      {"t":"2 02:41:37","ps":2.75,"sps":1.80,"tr":67},
      {"t":"2 02:42:22","ps":2.35,"sps":1.95,"tr":69},
      {"t":"2 02:43:07","ps":2.65,"sps":1.70,"tr":65},
      {"t":"2 02:43:52","ps":2.90,"sps":1.88,"tr":68},
      {"t":"2 02:44:37","ps":2.75,"sps":1.95,"tr":64},
      {"t":"2 02:45:22","ps":2.98,"sps":1.82,"tr":67},
      {"t":"2 02:46:07","ps":2.58,"sps":1.70,"tr":70},
      {"t":"2 02:46:52","ps":2.92,"sps":2.02,"tr":63},
      {"t":"2 02:47:37","ps":2.80,"sps":1.78,"tr":66},
      {"t":"2 02:48:22","ps":3.02,"sps":1.92,"tr":58},
      {"t":"2 02:49:07","ps":2.70,"sps":1.85,"tr":65},
      {"t":"2 02:49:52","ps":2.88,"sps":1.75,"tr":68},
      {"t":"2 02:50:37","ps":3.05,"sps":2.00,"tr":62},
      {"t":"2 02:51:22","ps":2.68,"sps":1.88,"tr":66},
      {"t":"2 02:52:07","ps":2.95,"sps":1.72,"tr":60},
      {"t":"2 02:52:52","ps":2.82,"sps":2.10,"tr":64},
      {"t":"2 02:53:37","ps":2.90,"sps":1.95,"tr":79},
      {"t":"2 02:54:22","ps":0.92,"sps":0.78,"tr":96},
      {"t":"2 02:55:07","ps":3.00,"sps":2.00,"tr":67},
      {"t":"2 02:55:52","ps":0.88,"sps":0.85,"tr":93},
      {"t":"2 02:56:37","ps":0.94,"sps":0.80,"tr":97},
      {"t":"2 02:57:22","ps":0.86,"sps":0.88,"tr":94},
      {"t":"2 02:58:07","ps":0.95,"sps":0.84,"tr":108},
      {"t":"2 02:58:52","ps":0.90,"sps":0.70,"tr":95},
      {"t":"2 02:59:37","ps":0.88,"sps":0.82,"tr":96},
      {"t":"2 03:00:22","ps":0.94,"sps":0.86,"tr":93},
      {"t":"2 03:01:07","ps":0.86,"sps":0.78,"tr":97},
      {"t":"2 03:01:52","ps":0.95,"sps":0.90,"tr":92},
      {"t":"2 03:02:37","ps":0.90,"sps":0.65,"tr":96},
      {"t":"2 03:03:22","ps":0.92,"sps":0.84,"tr":94},
      {"t":"2 03:04:07","ps":0.90,"sps":0.60,"tr":70},
      {"t":"2 03:04:52","ps":2.50,"sps":1.45,"tr":65},
      {"t":"2 03:05:37","ps":2.95,"sps":1.75,"tr":61},
      {"t":"2 03:06:22","ps":2.65,"sps":1.60,"tr":68},
      {"t":"2 03:07:07","ps":3.05,"sps":1.85,"tr":57},
      {"t":"2 03:07:52","ps":2.70,"sps":2.05,"tr":64},
      {"t":"2 03:08:37","ps":3.20,"sps":1.95,"tr":60},
      {"t":"2 03:09:22","ps":2.85,"sps":2.10,"tr":66},
      {"t":"2 03:10:07","ps":3.30,"sps":1.95,"tr":62},
      {"t":"2 03:10:52","ps":3.15,"sps":2.25,"tr":58},
      {"t":"2 03:11:37","ps":3.70,"sps":2.20,"tr":63},
      {"t":"2 03:12:22","ps":3.45,"sps":2.00,"tr":60},
      {"t":"2 03:13:07","ps":3.90,"sps":2.35,"tr":66},
      {"t":"2 03:13:52","ps":3.25,"sps":2.10,"tr":57},
      {"t":"2 03:14:37","ps":3.80,"sps":2.42,"tr":62},
      {"t":"2 03:15:22","ps":3.60,"sps":2.00,"tr":59},
      {"t":"2 03:16:07","ps":3.95,"sps":2.30,"tr":64},
      {"t":"2 03:16:52","ps":3.40,"sps":2.20,"tr":61},
      {"t":"2 03:17:37","ps":3.85,"sps":2.45,"tr":56},
      {"t":"2 03:18:22","ps":3.50,"sps":2.05,"tr":63},
      {"t":"2 03:19:07","ps":3.95,"sps":2.38,"tr":60},
      {"t":"2 03:19:52","ps":4.10,"sps":2.30,"tr":58},
      {"t":"2 03:20:37","ps":3.85,"sps":2.50,"tr":62},
      {"t":"2 03:21:22","ps":4.25,"sps":2.20,"tr":55},
      {"t":"2 03:22:07","ps":3.50,"sps":2.40,"tr":60},
      {"t":"2 03:22:52","ps":4.30,"sps":2.35,"tr":52},
      {"t":"2 03:23:37","ps":3.95,"sps":2.55,"tr":57},
      {"t":"2 03:24:22","ps":4.40,"sps":2.25,"tr":61},
      {"t":"2 03:25:07","ps":3.85,"sps":2.50,"tr":54},
      {"t":"2 03:25:52","ps":4.35,"sps":2.60,"tr":50},
      {"t":"2 03:26:37","ps":3.55,"sps":2.45,"tr":58},
      {"t":"2 03:27:22","ps":4.45,"sps":2.30,"tr":47},
      {"t":"2 03:28:07","ps":3.90,"sps":2.65,"tr":62},
      {"t":"2 03:28:52","ps":4.20,"sps":2.55,"tr":66},
      {"t":"2 03:29:37","ps":3.85,"sps":2.80,"tr":74},
      {"t":"2 03:30:22","ps":3.95,"sps":2.65,"tr":80},
      {"t":"2 03:31:07","ps":3.65,"sps":2.90,"tr":78},
      {"t":"2 03:31:52","ps":3.92,"sps":2.85,"tr":85},
      {"t":"2 03:32:37","ps":3.70,"sps":3.05,"tr":83},
      {"t":"2 03:33:22","ps":3.98,"sps":2.95,"tr":90},
      {"t":"2 03:34:07","ps":3.80,"sps":3.20,"tr":94},
      {"t":"2 03:34:52","ps":3.95,"sps":3.10,"tr":88},
      {"t":"2 03:35:37","ps":3.70,"sps":3.30,"tr":97},
      {"t":"2 03:36:22","ps":3.88,"sps":3.20,"tr":92},
      {"t":"2 03:37:07","ps":3.95,"sps":3.45,"tr":100},
      {"t":"2 03:37:52","ps":3.75,"sps":3.30,"tr":96},
      {"t":"2 03:38:37","ps":3.95,"sps":3.55,"tr":102},
      {"t":"2 03:39:22","ps":3.80,"sps":3.40,"tr":99},
      {"t":"1 23:20:50","ps":3.15},
      {"t":"1 23:22:10","ps":2.90},
      {"t":"1 23:23:50","ps":3.35},
      {"t":"1 23:25:10","ps":3.05},
      {"t":"1 23:26:50","ps":2.75},
      {"t":"1 23:28:10","ps":3.25},
      {"t":"1 23:29:50","ps":3.10},
      {"t":"1 23:31:10","ps":2.95},
      {"t":"1 23:32:50","ps":3.30},
      {"t":"1 23:34:10","ps":3.15},
      {"t":"1 23:36:10","ps":3.05},
      {"t":"1 23:38:50","ps":2.90},
      {"t":"1 23:41:50","ps":3.00},
      {"t":"1 23:44:50","ps":3.25},
      {"t":"1 23:47:50","ps":3.20},
      {"t":"1 23:50:50","ps":3.35},
      {"t":"1 23:53:50","ps":3.10},
      {"t":"1 23:56:50","ps":3.45},
      {"t":"1 23:59:50","ps":3.30},
      {"t":"2 00:02:50","ps":3.15},
      {"t":"2 00:05:50","ps":3.40},
      {"t":"2 00:08:50","ps":3.25},
      {"t":"2 03:06:50","ps":2.80},
      {"t":"2 03:08:50","ps":2.55},
      {"t":"2 03:13:50","ps":3.50},
      {"t":"2 03:16:50","ps":3.35},
      {"t":"2 03:22:50","ps":3.60},
      {"t":"2 03:25:50","ps":3.40},
      {"t":"1 22:30:30","tr":88},
      {"t":"1 22:32:00","tr":102},
      {"t":"1 22:33:30","tr":99},
      {"t":"1 22:35:00","tr":87},
      {"t":"1 22:36:30","tr":104},
      {"t":"1 22:38:00","tr":91},
      {"t":"1 22:39:30","tr":100},
      {"t":"1 22:41:00","tr":86},
      {"t":"1 22:42:30","tr":103},
      {"t":"1 22:44:00","tr":90},
      {"t":"1 22:45:30","tr":97},
      {"t":"1 22:47:00","tr":88},
      {"t":"1 22:48:30","tr":101},
      {"t":"1 22:50:00","tr":92},
      {"t":"1 22:51:30","tr":104},
      {"t":"1 22:53:00","tr":89},
      {"t":"1 22:54:30","tr":98},
      {"t":"1 22:56:00","tr":86},
      {"t":"1 22:57:30","tr":102},
      {"t":"1 22:59:00","tr":90},
      {"t":"1 23:00:30","tr":99},
      {"t":"1 23:02:00","tr":87},
      {"t":"1 23:03:30","tr":103},
      {"t":"1 23:05:00","tr":94},
      {"t":"1 23:06:30","tr":85},
      {"t":"1 23:08:00","tr":98},
      {"t":"1 23:09:30","tr":89},
      {"t":"1 23:11:00","tr":84},
      {"t":"1 23:12:30","tr":90},
      {"t":"1 23:14:00","tr":78},
      {"t":"1 23:15:30","tr":82},
      {"t":"1 23:17:00","tr":70},
      {"t":"1 23:18:30","tr":75},
      {"t":"1 23:20:00","tr":66},
      {"t":"1 23:21:30","tr":58},
      {"t":"1 23:23:00","tr":67},
      {"t":"1 23:24:30","tr":55},
      {"t":"1 23:26:00","tr":64},
      {"t":"1 23:27:30","tr":57},
      {"t":"1 23:29:00","tr":68},
      {"t":"1 23:30:30","tr":54},
      {"t":"1 23:32:00","tr":62},
      {"t":"1 23:33:30","tr":58},
      {"t":"1 23:35:00","tr":45},
      {"t":"1 23:36:30","tr":43},
      {"t":"1 23:38:00","tr":37},
      {"t":"1 23:39:30","tr":42},
      {"t":"1 23:41:00","tr":36},
      {"t":"1 23:42:30","tr":44},
      {"t":"1 23:44:00","tr":52},
      {"t":"1 23:45:30","tr":49},
      {"t":"1 23:47:00","tr":60},
      {"t":"1 23:48:30","tr":58},
      {"t":"1 23:50:00","tr":52},
      {"t":"1 23:51:30","tr":64},
      {"t":"1 23:53:00","tr":59},
      {"t":"1 23:54:30","tr":53},
      {"t":"1 23:56:00","tr":66},
      {"t":"1 23:57:30","tr":57},
      {"t":"1 23:59:00","tr":62},
      {"t":"2 00:00:30","tr":52},
      {"t":"2 00:02:00","tr":60},
      {"t":"2 00:03:30","tr":58},
      {"t":"2 00:05:00","tr":65},
      {"t":"2 00:06:30","tr":54},
      {"t":"2 00:08:00","tr":61},
      {"t":"2 00:09:30","tr":56},
      {"t":"2 00:11:00","tr":64},
      {"t":"2 00:12:30","tr":82},
      {"t":"2 00:14:00","tr":90},
      {"t":"2 00:15:30","tr":98},
      {"t":"2 00:17:00","tr":88},
      {"t":"2 00:18:30","tr":96},
      {"t":"2 00:20:00","tr":89},
      {"t":"2 00:21:30","tr":99},
      {"t":"2 00:23:00","tr":91},
      {"t":"2 00:24:30","tr":87},
      {"t":"2 00:26:00","tr":98},
      {"t":"2 00:27:30","tr":90},
      {"t":"2 00:29:00","tr":100},
      {"t":"2 00:30:30","tr":88},
      {"t":"2 00:32:00","tr":96},
      {"t":"2 00:33:30","tr":87},
      {"t":"2 00:35:00","tr":99},
      {"t":"2 00:36:30","tr":90},
      {"t":"2 00:38:00","tr":86},
      {"t":"2 00:39:30","tr":98},
      {"t":"2 00:41:00","tr":89},
      {"t":"2 00:42:30","tr":95},
      {"t":"2 00:44:00","tr":84},
      {"t":"2 00:45:30","tr":91},
      {"t":"2 00:47:00","tr":79},
      {"t":"2 00:48:30","tr":86},
      {"t":"2 00:50:00","tr":75},
      {"t":"2 00:51:30","tr":82},
      {"t":"2 00:53:00","tr":68},
      {"t":"2 00:54:30","tr":77},
      {"t":"2 00:56:00","tr":65},
      {"t":"2 00:57:30","tr":69},
      {"t":"2 00:59:00","tr":62},
      {"t":"2 01:00:30","tr":58},
      {"t":"2 01:02:00","tr":64},
      {"t":"2 01:03:30","tr":84},
      {"t":"2 01:05:00","tr":99},
      {"t":"2 01:06:30","tr":91},
      {"t":"2 01:08:00","tr":98},
      {"t":"2 01:09:30","tr":90},
      {"t":"2 01:11:00","tr":100},
      {"t":"2 01:12:30","tr":92},
      {"t":"2 01:14:00","tr":99},
      {"t":"2 01:15:30","tr":89},
      {"t":"2 01:17:00","tr":98},
      {"t":"2 01:18:30","tr":91},
      {"t":"2 01:20:00","tr":99},
      {"t":"2 01:21:30","tr":90},
      {"t":"2 01:23:00","tr":98},
      {"t":"2 01:24:30","tr":89},
      {"t":"2 01:26:00","tr":100},
      {"t":"2 01:27:30","tr":88},
      {"t":"2 01:29:00","tr":68},
      {"t":"2 01:30:30","tr":57},
      {"t":"2 01:32:00","tr":66},
      {"t":"2 01:33:30","tr":59},
      {"t":"2 01:35:00","tr":100},
      {"t":"2 01:36:30","tr":91},
      {"t":"2 01:38:00","tr":99},
      {"t":"2 01:39:30","tr":89},
      {"t":"2 01:41:00","tr":100},
      {"t":"2 01:42:30","tr":91},
      {"t":"2 01:44:00","tr":98},
      {"t":"2 01:45:30","tr":90},
      {"t":"2 01:47:00","tr":100},
      {"t":"2 01:48:30","tr":92},
      {"t":"2 01:50:00","tr":99},
      {"t":"2 01:51:30","tr":89},
      {"t":"2 01:53:00","tr":98},
      {"t":"2 01:54:30","tr":91},
      {"t":"2 01:56:00","tr":69},
      {"t":"2 01:58:00","tr":100},
      {"t":"2 01:59:30","tr":90},
      {"t":"2 02:01:00","tr":99},
      {"t":"2 02:02:30","tr":91},
      {"t":"2 02:04:00","tr":100},
      {"t":"2 02:05:30","tr":89},
      {"t":"2 02:07:00","tr":98},
      {"t":"2 02:08:30","tr":91},
      {"t":"2 02:10:00","tr":99},
      {"t":"2 02:11:30","tr":90},
      {"t":"2 02:13:00","tr":100},
      {"t":"2 02:14:30","tr":92},
      {"t":"2 02:16:00","tr":98},
      {"t":"2 02:17:30","tr":89},
      {"t":"2 02:19:00","tr":100},
      {"t":"2 02:20:30","tr":91},
      {"t":"2 02:22:00","tr":98},
      {"t":"2 02:23:30","tr":90},
      {"t":"2 02:25:00","tr":92},
      {"t":"2 02:26:30","tr":85},
      {"t":"2 02:28:00","tr":90},
      {"t":"2 02:29:30","tr":76},
      {"t":"2 02:31:00","tr":83},
      {"t":"2 02:32:30","tr":70},
      {"t":"2 02:34:00","tr":78},
      {"t":"2 02:35:30","tr":62},
      {"t":"2 02:37:00","tr":71},
      {"t":"2 02:38:30","tr":63},
      {"t":"2 02:40:00","tr":72},
      {"t":"2 02:41:30","tr":60},
      {"t":"2 02:43:00","tr":70},
      {"t":"2 02:44:30","tr":61},
      {"t":"2 02:46:00","tr":72},
      {"t":"2 02:47:30","tr":62},
      {"t":"2 02:49:00","tr":70},
      {"t":"2 02:50:30","tr":59},
      {"t":"2 02:52:00","tr":71},
      {"t":"2 02:53:30","tr":62},
      {"t":"2 02:54:30","tr":100},
      {"t":"2 02:56:00","tr":90},
      {"t":"2 02:57:30","tr":99},
      {"t":"2 02:59:00","tr":89},
      {"t":"2 03:00:30","tr":100},
      {"t":"2 03:02:00","tr":91},
      {"t":"2 03:03:30","tr":98},
      {"t":"2 03:05:00","tr":66},
      {"t":"2 03:06:30","tr":55},
      {"t":"2 03:08:00","tr":64},
      {"t":"2 03:09:30","tr":54},
      {"t":"2 03:11:00","tr":67},
      {"t":"2 03:12:30","tr":56},
      {"t":"2 03:14:00","tr":65},
      {"t":"2 03:15:30","tr":55},
      {"t":"2 03:17:00","tr":66},
      {"t":"2 03:18:30","tr":57},
      {"t":"2 03:20:00","tr":64},
      {"t":"2 03:21:30","tr":55},
      {"t":"2 03:23:00","tr":62},
      {"t":"2 03:24:30","tr":56},
      {"t":"2 03:26:00","tr":63},
      {"t":"2 03:27:30","tr":52},
      {"t":"2 03:29:00","tr":65},
      {"t":"2 03:30:30","tr":72},
      {"t":"2 03:32:00","tr":82},
      {"t":"2 03:33:30","tr":79},
      {"t":"2 03:35:00","tr":90},
      {"t":"2 03:36:30","tr":86},
      {"t":"2 03:38:00","tr":95},
      {"t":"2 03:39:30","tr":92}
    ]
  },
  "vconcat": [
    {
      "width": 1698,
      "height": 392,
      "title": {"text": "1e11", "anchor": "start", "frame": "group", "fontSize": 30, "fontWeight": "normal", "color": "#262626", "offset": -12},
      "transform": [{"fold": ["ps", "sps"], "as": ["series", "value"]}],
      "mark": {"type": "circle", "size": 165, "opacity": 1, "stroke": "#222222", "strokeWidth": 1, "clip": true},
      "encoding": {
        "x": {
          "field": "t", "type": "temporal",
          "scale": {"domain": [{"year": 1900, "month": 1, "date": 1, "hours": 22, "minutes": 30}, {"year": 1900, "month": 1, "date": 2, "hours": 3, "minutes": 40}], "nice": false},
          "axis": {"labels": false, "title": null,
            "values": [
              {"year": 1900, "month": 1, "date": 1, "hours": 22, "minutes": 50},
              {"year": 1900, "month": 1, "date": 1, "hours": 23, "minutes": 20},
              {"year": 1900, "month": 1, "date": 1, "hours": 23, "minutes": 50},
              {"year": 1900, "month": 1, "date": 2, "hours": 0, "minutes": 20},
              {"year": 1900, "month": 1, "date": 2, "hours": 0, "minutes": 50},
              {"year": 1900, "month": 1, "date": 2, "hours": 1, "minutes": 20},
              {"year": 1900, "month": 1, "date": 2, "hours": 1, "minutes": 50},
              {"year": 1900, "month": 1, "date": 2, "hours": 2, "minutes": 20},
              {"year": 1900, "month": 1, "date": 2, "hours": 2, "minutes": 50},
              {"year": 1900, "month": 1, "date": 2, "hours": 3, "minutes": 20}
            ]}
        },
        "y": {
          "field": "value", "type": "quantitative",
          "scale": {"domain": [0, 5], "nice": false},
          "axis": {"title": "Intensity [ppb]", "values": [0, 1, 2, 3, 4, 5], "titlePadding": 21,
            "gridColor": {"condition": {"test": "datum.value == 0 || datum.value == 5", "value": "transparent"}, "value": "white"}}
        },
        "color": {
          "field": "series", "type": "nominal",
          "scale": {"domain": ["ps", "sps"], "range": ["#4C72B0", "#55A868"]},
          "legend": {
            "orient": "none", "legendX": 645, "legendY": 25, "title": null,
            "labelExpr": "datum.label == 'ps' ? 'PS extracted intensity' : 'SPS injected intensity'",
            "labelFontSize": 31.5, "labelColor": "#262626", "labelLimit": 0, "symbolType": "circle", "symbolSize": 100,
            "symbolStrokeColor": "#222222", "symbolStrokeWidth": 0.8, "symbolOpacity": 1,
            "labelOffset": 42, "rowPadding": 14, "padding": 0
          }
        },
        "order": {"field": "series", "sort": "ascending"}
      }
    },
    {
      "width": 1698,
      "height": 392,
      "mark": {"type": "circle", "size": 165, "opacity": 1, "color": "#C44E52", "stroke": "#222222", "strokeWidth": 1, "clip": true},
      "encoding": {
        "x": {
          "field": "t", "type": "temporal",
          "scale": {"domain": [{"year": 1900, "month": 1, "date": 1, "hours": 22, "minutes": 30}, {"year": 1900, "month": 1, "date": 2, "hours": 3, "minutes": 40}], "nice": false},
          "axis": {"title": "Time", "format": "%H:%M", "labelAngle": -30, "labelAlign": "right", "labelBaseline": "top",
            "labelOffset": -21, "labelPadding": 18, "titlePadding": 14,
            "values": [
              {"year": 1900, "month": 1, "date": 1, "hours": 22, "minutes": 50},
              {"year": 1900, "month": 1, "date": 1, "hours": 23, "minutes": 20},
              {"year": 1900, "month": 1, "date": 1, "hours": 23, "minutes": 50},
              {"year": 1900, "month": 1, "date": 2, "hours": 0, "minutes": 20},
              {"year": 1900, "month": 1, "date": 2, "hours": 0, "minutes": 50},
              {"year": 1900, "month": 1, "date": 2, "hours": 1, "minutes": 20},
              {"year": 1900, "month": 1, "date": 2, "hours": 1, "minutes": 50},
              {"year": 1900, "month": 1, "date": 2, "hours": 2, "minutes": 20},
              {"year": 1900, "month": 1, "date": 2, "hours": 2, "minutes": 50},
              {"year": 1900, "month": 1, "date": 2, "hours": 3, "minutes": 20}
            ]}
        },
        "y": {
          "field": "tr", "type": "quantitative",
          "scale": {"domain": [0, 150], "nice": false},
          "axis": {"title": "Transmission [%]", "values": [0, 20, 40, 60, 80, 100, 120, 140], "titlePadding": 24,
            "gridColor": {"condition": {"test": "datum.value == 0", "value": "transparent"}, "value": "white"}}
        }
      }
    }
  ],
  "spacing": 59
}
